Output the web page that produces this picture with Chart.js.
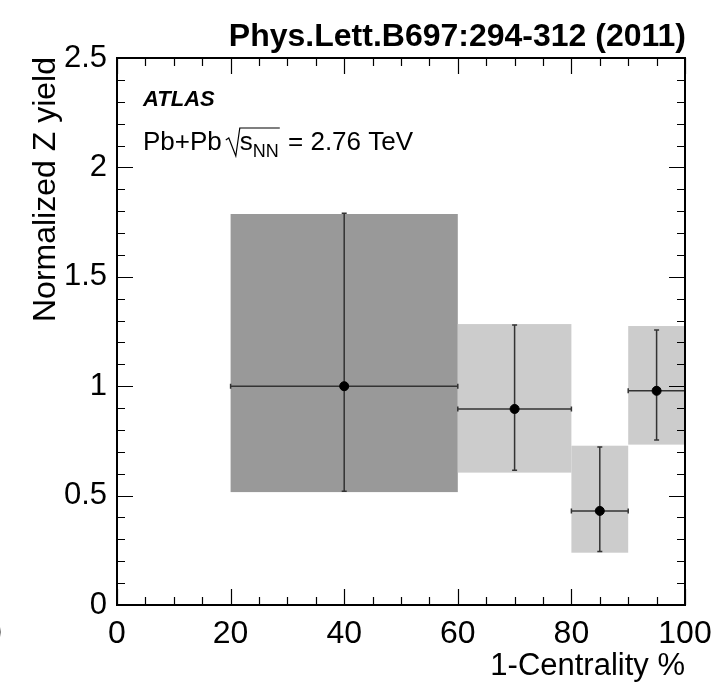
<!DOCTYPE html>
<html>
<head>
<meta charset="utf-8">
<script src="https://cdn.jsdelivr.net/npm/chart.js@4"></script>
<style>
  html, body { margin: 0; padding: 0; background: #fff; }
  canvas { display: block; }
</style>
</head>
<body>
<canvas id="zChart" width="714" height="685"></canvas>
<script>
// bin centres and edges in 1-centrality %
const centers = [40, 70, 85, 95];
const binLo = [20, 60, 80, 90];
const binHi = [60, 80, 90, 100];
// normalized Z yield and its errors
const yields = [1.0, 0.896, 0.43, 0.979];
const statLo = [0.52, 0.616, 0.244, 0.754];
const statHi = [1.79, 1.28, 0.722, 1.257];
const sysLo = [0.516, 0.605, 0.239, 0.733];
const sysHi = [1.787, 1.284, 0.728, 1.275];
const xTicks = [0, 20, 40, 60, 80, 100];
const yTicks = [0, 0.5, 1, 1.5, 2, 2.5];

const FONT = "'Liberation Sans', Arial, Helvetica, sans-serif";
const boxFill = ['#999999', '#cccccc', '#cccccc', '#cccccc'];

const points = centers.map((c, i) => ({ x: c, y: yields[i] }));

const errorPlugin = {
  id: 'errorBoxes',
  beforeDatasetsDraw(chart) {
    const { ctx, scales: { x, y } } = chart;
    ctx.save();
    // systematic boxes
    for (let i = 0; i < centers.length; i++) {
      const x0 = x.getPixelForValue(binLo[i]);
      const x1 = x.getPixelForValue(binHi[i]);
      const y0 = y.getPixelForValue(sysHi[i]);
      const y1 = y.getPixelForValue(sysLo[i]);
      ctx.fillStyle = boxFill[i];
      ctx.fillRect(x0, y0, x1 - x0, y1 - y0);
    }
    // error bars
    ctx.strokeStyle = '#333333';
    ctx.lineWidth = 1.5;
    const cap = 2.5;
    for (let i = 0; i < centers.length; i++) {
      const xc = x.getPixelForValue(centers[i]);
      const yc = y.getPixelForValue(yields[i]);
      const xl = x.getPixelForValue(binLo[i]);
      const xr = x.getPixelForValue(binHi[i]);
      const yt = y.getPixelForValue(statHi[i]);
      const yb = y.getPixelForValue(statLo[i]);
      ctx.beginPath();
      ctx.moveTo(xl, yc); ctx.lineTo(xr, yc);
      ctx.moveTo(xc, yt); ctx.lineTo(xc, yb);
      ctx.moveTo(xl, yc - cap); ctx.lineTo(xl, yc + cap);
      ctx.moveTo(xr, yc - cap); ctx.lineTo(xr, yc + cap);
      ctx.moveTo(xc - cap, yt); ctx.lineTo(xc + cap, yt);
      ctx.moveTo(xc - cap, yb); ctx.lineTo(xc + cap, yb);
      ctx.stroke();
    }
    ctx.restore();
  },
  afterDraw(chart) {
    const { ctx, chartArea: a, scales: { x, y } } = chart;
    ctx.save();
    // frame
    ctx.strokeStyle = '#000';
    ctx.lineWidth = 2;
    ctx.strokeRect(a.left, a.top, a.right - a.left, a.bottom - a.top);
    // ticks inside on all four sides
    ctx.lineWidth = 1.2;
    ctx.beginPath();
    for (let v = 0; v <= 100; v += 5) {
      const px = Math.round(x.getPixelForValue(v)) + 0.5;
      const len = v % 20 === 0 ? 16 : 8;
      ctx.moveTo(px, a.bottom); ctx.lineTo(px, a.bottom - len);
      ctx.moveTo(px, a.top); ctx.lineTo(px, a.top + len);
    }
    for (let k = 0; k <= 25; k++) {
      const py = Math.round(y.getPixelForValue(k / 10)) + 0.5;
      const len = k % 5 === 0 ? 16 : 8;
      ctx.moveTo(a.left, py); ctx.lineTo(a.left + len, py);
      ctx.moveTo(a.right, py); ctx.lineTo(a.right - len, py);
    }
    ctx.stroke();

    ctx.fillStyle = '#000';
    // header
    ctx.font = 'bold 32px ' + FONT;
    ctx.textAlign = 'right';
    ctx.textBaseline = 'alphabetic';
    ctx.fillText('Phys.Lett.B697:294-312 (2011)', 686, 46);

    // y axis title
    ctx.save();
    ctx.translate(55, 322);
    ctx.rotate(-Math.PI / 2);
    ctx.textAlign = 'left';
    ctx.font = '32px ' + FONT;
    ctx.fillText('Normalized Z yield', 0, 0);
    ctx.restore();

    // stray label fragment at the left edge
    ctx.font = '32px ' + FONT;
    ctx.textAlign = 'left';
    ctx.fillText('0', -16, 643);

    // ATLAS label
    ctx.font = 'italic bold 22px ' + FONT;
    ctx.fillText('ATLAS', 143, 106);

    // Pb+Pb sqrt(s_NN) = 2.76 TeV
    ctx.font = '26px ' + FONT;
    let cx = 143;
    const base = 150;
    ctx.fillText('Pb+Pb', cx, base);
    cx += ctx.measureText('Pb+Pb').width + 4;
    const sStart = cx + 14;
    ctx.fillText('s', sStart, base);
    let sEnd = sStart + ctx.measureText('s').width;
    ctx.font = '18px ' + FONT;
    ctx.fillText('NN', sEnd, base + 7);
    sEnd += ctx.measureText('NN').width;
    ctx.lineWidth = 1.2;
    ctx.beginPath();
    ctx.moveTo(cx, base - 10);
    ctx.lineTo(cx + 3, base - 12);
    ctx.lineTo(cx + 10, base + 6);
    ctx.lineTo(cx + 14, base - 22);
    ctx.lineTo(sEnd + 1, base - 22);
    ctx.stroke();
    ctx.font = '26px ' + FONT;
    ctx.fillText(' = 2.76 TeV', sEnd + 2, base);
    ctx.restore();
  }
};

new Chart(document.getElementById('zChart'), {
  type: 'scatter',
  data: {
    datasets: [{
      data: points,
      backgroundColor: '#000',
      borderColor: '#000',
      pointRadius: 4.5,
      pointHoverRadius: 4.5
    }]
  },
  options: {
    responsive: false,
    devicePixelRatio: 1,
    animation: false,
    layout: { padding: { top: 58, right: 29, left: 0, bottom: 0 } },
    plugins: { legend: { display: false }, tooltip: { enabled: false } },
    scales: {
      x: {
        type: 'linear',
        min: 0,
        max: 100,
        afterBuildTicks: s => { s.ticks = xTicks.map(v => ({ value: v })); },
        afterFit: s => { s.height = 80; s.paddingLeft = 0; s.paddingRight = 0; },
        grid: { display: false, drawTicks: false },
        border: { display: false },
        ticks: { color: '#000', padding: 10, maxRotation: 0, font: { family: FONT, size: 32 } },
        title: {
          display: true,
          text: '1-Centrality %',
          align: 'end',
          color: '#000',
          padding: { top: 0, bottom: 0 },
          font: { family: FONT, size: 31 }
        }
      },
      y: {
        type: 'linear',
        min: 0,
        max: 2.5,
        afterBuildTicks: s => { s.ticks = yTicks.map(v => ({ value: v })); },
        afterFit: s => { s.width = 117; s.paddingTop = 0; s.paddingBottom = 0; },
        grid: { display: false, drawTicks: false },
        border: { display: false },
        ticks: {
          color: '#000',
          padding: 10,
          font: { family: FONT, size: 31 },
          callback: v => String(v)
        }
      }
    }
  },
  plugins: [errorPlugin]
});
</script>
</body>
</html>
